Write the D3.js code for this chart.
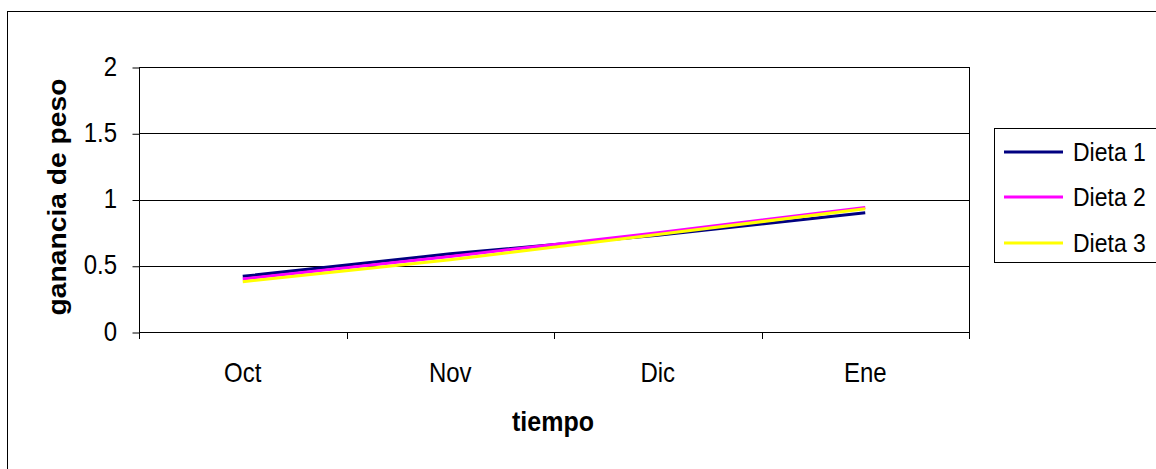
<!DOCTYPE html>
<html><head><meta charset="utf-8">
<script src="https://cdn.jsdelivr.net/npm/d3@7"></script>
<style>
body{margin:0;background:#fff;}
text{font-family:"Liberation Sans",Arial,sans-serif;fill:#000;}
</style></head>
<body>
<svg id="c" width="1156" height="469"></svg>
<script>
const categories = ["Oct","Nov","Dic","Ene"];
const seriesNames = ["Dieta 1","Dieta 2","Dieta 3"];
const dieta1 = [0.42, 0.59, 0.73, 0.90];
const dieta2 = [0.40, 0.57, 0.75, 0.94];
const dieta3 = [0.38, 0.545, 0.735, 0.93];
const seriesColors = ["#000080","#FF00FF","#FFFF00"];
const yTicks = [0, 0.5, 1, 1.5, 2];
const yTitle = "ganancia de peso";
const xTitle = "tiempo";

const series = [dieta1, dieta2, dieta3];
const svg = d3.select("#c");
const L = 139, R = 969, T = 67, B = 332;
const SY = 1.12; // vertical stretch of text

function label(x0, y0, str, size, anchor, bold, rot) {
  const t = svg.append("text")
    .attr("transform", `translate(${x0},${y0}) scale(1,${SY})` + (rot ? ` rotate(${rot})` : ""))
    .attr("text-anchor", anchor).attr("font-size", size).text(str);
  if (bold) t.attr("font-weight", "bold");
  return t;
}

// outer chart border
svg.append("rect").attr("x",7.5).attr("y",11.5).attr("width",1160).attr("height",470)
  .attr("fill","#fff").attr("stroke","#000").attr("stroke-width",1);

const x = d3.scaleBand().domain(categories).range([L, R]).padding(0);
const y = d3.scaleLinear().domain([0, 2]).range([B, T]);

// gridlines
svg.append("g").selectAll("line").data(yTicks.filter(d=>d>0)).join("line")
  .attr("x1",L).attr("x2",R)
  .attr("y1",d=>Math.round(y(d))+0.5).attr("y2",d=>Math.round(y(d))+0.5)
  .attr("stroke","#000").attr("stroke-width",1);
// right border of plot area
svg.append("line").attr("x1",R+0.5).attr("x2",R+0.5).attr("y1",T).attr("y2",B)
  .attr("stroke","#000");

// y axis
const yAxis = svg.append("g").attr("transform",`translate(${L+0.5},0.5)`)
  .call(d3.axisLeft(y).tickValues(yTicks).tickSize(7).tickFormat(""));
yAxis.select(".domain").attr("stroke","#000").attr("d",`M0,${T}V${B}`);
yAxis.selectAll(".tick line").attr("stroke","#000");
yTicks.forEach(v => label(117, y(v) + 8.6, String(v), 24, "end"));

// x axis
const xAxis = svg.append("g").attr("transform",`translate(0,${B+0.5})`)
  .call(d3.axisBottom(x).tickSize(0).tickFormat(""));
xAxis.select(".domain").attr("stroke","#000").attr("d",`M${L},0H${R}`);
const bounds = categories.map(c=>x(c)).concat([x(categories[categories.length-1])+x.bandwidth()]);
svg.append("g").selectAll("line").data(bounds).join("line")
  .attr("x1",d=>Math.round(d)+0.5).attr("x2",d=>Math.round(d)+0.5)
  .attr("y1",B).attr("y2",B+7).attr("stroke","#000");
categories.forEach(c => label(x(c) + x.bandwidth()/2, 382, c, 24, "middle"));

// lines
const line = d3.line().x((d,i)=>x(categories[i])+x.bandwidth()/2).y(d=>y(d));
series.forEach((s,k)=>{
  svg.append("path").datum(s).attr("d",line).attr("fill","none")
    .attr("stroke",seriesColors[k]).attr("stroke-width",3);
});

// axis titles
label(553, 431, xTitle, 25, "middle", true);
label(66, 197/SY*SY, yTitle, 25.2, "middle", true, -90).attr("transform", `translate(66,197) scale(1,${SY}) rotate(-90)`);

// legend
svg.append("rect").attr("x",994.5).attr("y",128.5).attr("width",200).attr("height",134)
  .attr("fill","#fff").attr("stroke","#000");
const ly = [152, 197, 243];
seriesNames.forEach((n,k)=>{
  svg.append("line").attr("x1",1004).attr("x2",1063).attr("y1",ly[k]).attr("y2",ly[k])
    .attr("stroke",seriesColors[k]).attr("stroke-width",3);
  label(1073, ly[k] + 8.6, n, 23, "start");
});
</script>
</body></html>
